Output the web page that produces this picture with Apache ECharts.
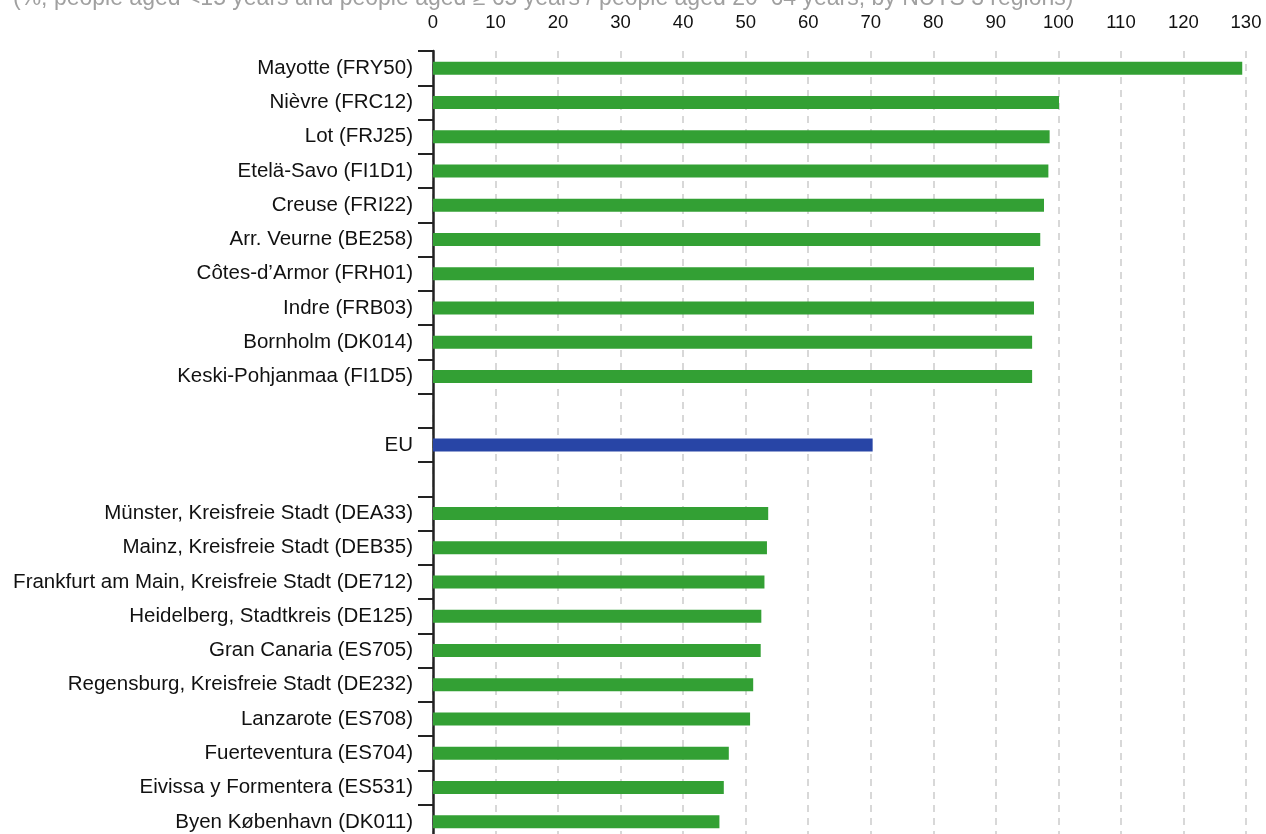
<!DOCTYPE html>
<html>
<head>
<meta charset="utf-8">
<script src="https://cdn.jsdelivr.net/npm/echarts@6/dist/echarts.min.js"></script>
<style>
  html, body { margin: 0; padding: 0; background: #fff; }
  #myChart { width: 1266px; height: 834px; }
</style>
</head>
<body>
<div id="myChart"></div>
<script>
// regions, top 10 / EU / bottom 10 (blank rows as spacers)
var regions = [
  'Mayotte (FRY50)', 'Nièvre (FRC12)', 'Lot (FRJ25)', 'Etelä-Savo (FI1D1)', 'Creuse (FRI22)',
  'Arr. Veurne (BE258)', 'Côtes-d’Armor (FRH01)', 'Indre (FRB03)', 'Bornholm (DK014)', 'Keski-Pohjanmaa (FI1D5)',
  '', 'EU', '',
  'Münster, Kreisfreie Stadt (DEA33)', 'Mainz, Kreisfreie Stadt (DEB35)', 'Frankfurt am Main, Kreisfreie Stadt (DE712)',
  'Heidelberg, Stadtkreis (DE125)', 'Gran Canaria (ES705)', 'Regensburg, Kreisfreie Stadt (DE232)',
  'Lanzarote (ES708)', 'Fuerteventura (ES704)', 'Eivissa y Formentera (ES531)', 'Byen København (DK011)'
];
var ratios = [
  129.4, 100.1, 98.6, 98.4, 97.7,
  97.1, 96.1, 96.1, 95.8, 95.8,
  null, 70.3, null,
  53.6, 53.4, 53.0,
  52.5, 52.4, 51.2,
  50.7, 47.3, 46.5, 45.8
];
var xTicks = [0, 130, 10]; // min, max, interval

var chart = echarts.init(document.getElementById('myChart'));
chart.setOption({
  animation: false,
  title: {
    text: '(%; people aged <15 years and people aged ≥ 65 years / people aged 20–64 years, by NUTS 3 regions)',
    left: 8,
    top: -18,
    textStyle: { fontFamily: 'Liberation Sans', fontSize: 23, fontWeight: 'normal', color: '#a0a0a0' }
  },
  grid: {
    left: 433,
    right: 20,
    top: 51,
    height: 788,
    outerBoundsMode: 'none'
  },
  xAxis: {
    type: 'value',
    position: 'top',
    min: xTicks[0],
    max: xTicks[1],
    interval: xTicks[2],
    axisLine: { show: false },
    axisTick: { show: false },
    axisLabel: {
      margin: 19,
      fontFamily: 'Liberation Sans',
      fontSize: 18.5,
      color: '#111'
    },
    splitLine: {
      show: true,
      lineStyle: { color: '#ccc', width: 1.5, type: [7, 6] }
    }
  },
  yAxis: {
    type: 'category',
    inverse: true,
    data: regions,
    axisLine: { show: true, lineStyle: { color: '#222', width: 2.5 } },
    axisTick: { show: true, interval: 0, length: 15, lineStyle: { color: '#222', width: 2 } },
    axisLabel: {
      interval: 0,
      margin: 20,
      padding: [5, 0, 0, 0],
      fontFamily: 'Liberation Sans',
      fontSize: 20.5,
      color: '#111'
    }
  },
  series: [{
    type: 'bar',
    data: ratios,
    barWidth: 13,
    itemStyle: {
      color: function (p) {
        return p.name === 'EU' ? '#2845a6' : '#33a034';
      }
    }
  }]
});
</script>
</body>
</html>
